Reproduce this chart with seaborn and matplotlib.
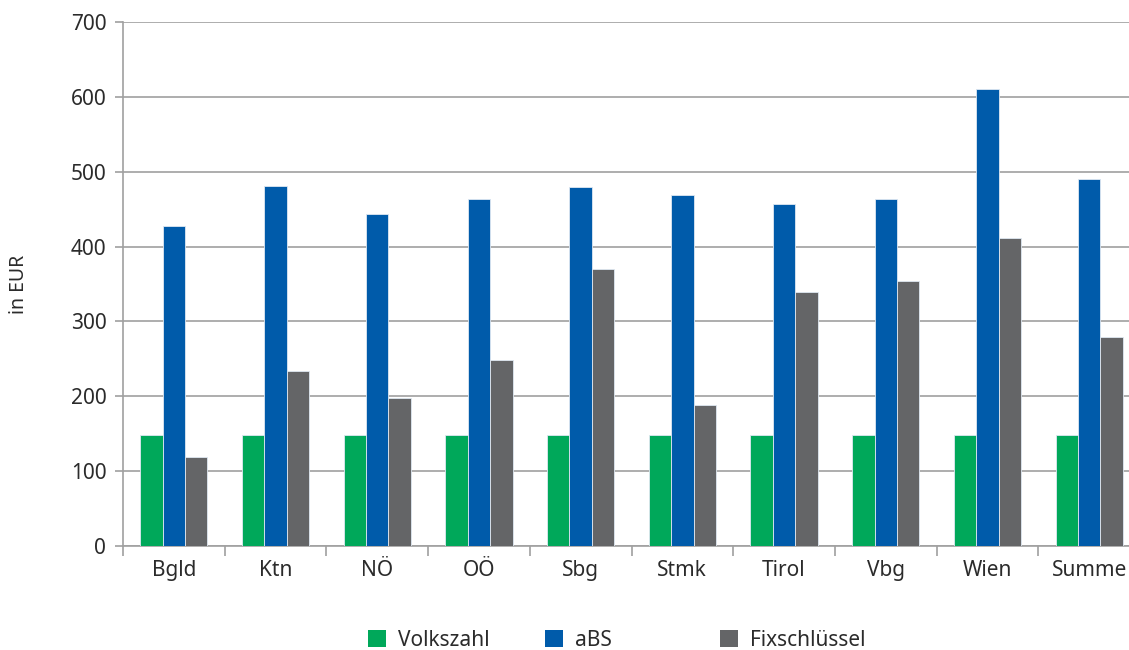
import matplotlib
matplotlib.use("Agg")
import matplotlib.pyplot as plt
from matplotlib.patches import Patch
from matplotlib.ticker import MultipleLocator, FixedLocator
import seaborn as sns
import pandas as pd

# Data
regions = ["Bgld", "Ktn", "NÖ", "OÖ", "Sbg", "Stmk", "Tirol", "Vbg", "Wien", "Summe"]
volkszahl = [148, 148, 148, 148, 148, 148, 148, 148, 148, 148]
abs_vals = [427, 481, 443, 463, 480, 469, 457, 463, 610, 490]
fixschluessel = [119, 234, 198, 248, 370, 188, 339, 354, 411, 279]
series_names = ["Volkszahl", "aBS", "Fixschlüssel"]
colors = ["#00A85A", "#005BAA", "#646567"]

df = pd.DataFrame({
    "Region": regions * 3,
    "Serie": [series_names[0]] * len(regions) + [series_names[1]] * len(regions) + [series_names[2]] * len(regions),
    "Wert": volkszahl + abs_vals + fixschluessel,
})

sns.set_theme(style="white")
plt.rcParams["font.family"] = ["Noto Sans", "DejaVu Sans"]

fig = plt.figure(figsize=(11.29, 6.5), dpi=100)
ax = fig.add_axes([123 / 1129, 104 / 650, 1017 / 1129, 524 / 650])

sns.barplot(data=df, x="Region", y="Wert", hue="Serie", order=regions,
            hue_order=series_names, palette=colors, saturation=1, width=0.66,
            edgecolor="#dfe8f2", linewidth=0.6, ax=ax, legend=False, zorder=3)

ax.set_ylim(0, 700)
ax.set_xlim(-0.5, len(regions) - 0.5)
ax.yaxis.set_major_locator(MultipleLocator(100))
ax.grid(axis="y", color="#a0a0a0", linewidth=1.2, zorder=0)
ax.set_axisbelow(True)

# category boundary ticks on the x axis, labels centred in the groups
ax.xaxis.set_minor_locator(FixedLocator([i - 0.5 for i in range(len(regions) + 1)]))
ax.tick_params(axis="x", which="minor", length=7, width=1.2, color="#a0a0a0", direction="out", bottom=True)
ax.tick_params(axis="x", which="major", length=0, pad=10, labelsize=15, labelcolor="#2b2b2b")
ax.tick_params(axis="y", which="major", length=6, width=1.2, color="#a0a0a0", direction="out", left=True,
               pad=6, labelsize=15, labelcolor="#2b2b2b")

for side in ["top", "right"]:
    ax.spines[side].set_visible(False)
for side in ["left", "bottom"]:
    ax.spines[side].set_color("#a0a0a0")
    ax.spines[side].set_linewidth(1.2)

ax.set_xlabel("")
ax.set_ylabel("in EUR", fontsize=14, color="#2b2b2b", labelpad=30)

# legend entries placed along the bottom
legend_x = [368 / 1129, 545 / 1129, 720 / 1129]
for name, col, lx in zip(series_names, colors, legend_x):
    fig.legend(handles=[Patch(facecolor=col, edgecolor="none")], labels=[name],
               loc="center left", bbox_to_anchor=(lx, 10 / 650),
               frameon=False, fontsize=15, handlelength=0.85, handleheight=0.85,
               handletextpad=0.6, borderaxespad=0, borderpad=0, labelcolor="#2b2b2b")

fig.savefig("out.png", dpi=100)
